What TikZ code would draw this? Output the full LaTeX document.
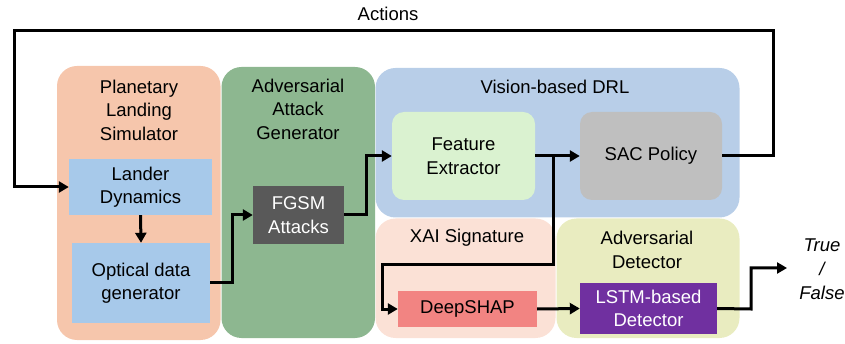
\documentclass[tikz,border=0pt]{standalone}
\usepackage{fontspec}
\setmainfont{Liberation Sans}
\usetikzlibrary{arrows.meta}
\definecolor{cPlan}{HTML}{F6C6AC}
\definecolor{cGen}{HTML}{8DB790}
\definecolor{cDRL}{HTML}{B8CEE8}
\definecolor{cXAI}{HTML}{FBE1D6}
\definecolor{cDet}{HTML}{E9ECC0}
\definecolor{cBlue}{HTML}{A7C9EA}
\definecolor{cFGSM}{HTML}{595959}
\definecolor{cFeat}{HTML}{DAF2D0}
\definecolor{cSAC}{HTML}{BFBFBF}
\definecolor{cShap}{HTML}{F28482}
\definecolor{cLSTM}{HTML}{7030A0}
\begin{document}
\begin{tikzpicture}[x=1pt,y=-1pt,
  every node/.style={font=\fontsize{18.5}{23.5}\selectfont, align=center, inner sep=0pt},
  region/.style={rounded corners=20pt},
  arr/.style={line width=3pt, -{Triangle[length=10pt,width=11pt]}}
]
\useasboundingbox (0,0) rectangle (845,344);
% regions
\fill[cPlan, region] (57,66) rectangle (220.5,340);
\fill[cGen, region] (221.5,67) rectangle (375,338);
\fill[cDRL, region] (375.5,68) rectangle (739.5,217.5);
\fill[cXAI, region] (375.5,218.5) rectangle (555.5,338);
\fill[cDet, region] (556.5,218.5) rectangle (739.5,338);
% region titles
\node (tPlan) at (139,110) {Planetary\\Landing\\Simulator};
\node (tGen) at (298,109) {Adversarial\\Attack\\Generator};
\node (tDRL) at (555,87) {Vision-based DRL};
\node (tXAI) at (467,238) {XAI Signature};
\node (tDet) at (647,250) {Adversarial\\Detector};
\node (tAct) at (388,14) {Actions};
% boxes
\node[fill=cBlue, minimum width=143pt, minimum height=56pt] (lander) at (140.5,187) {Lander\\Dynamics};
\node[fill=cBlue, minimum width=138pt, minimum height=80pt] (optical) at (141,283) {Optical data\\generator};
\node[fill=cFGSM, text=white, minimum width=91pt, minimum height=58pt] (fgsm) at (298.5,215) {FGSM\\Attacks};
\node[fill=cFeat, rounded corners=12pt, minimum width=143pt, minimum height=88pt] (feat) at (463.5,156) {Feature\\Extractor};
\node[fill=cSAC, rounded corners=12pt, minimum width=142pt, minimum height=88pt] (sac) at (651,156) {SAC Policy};
\node[fill=cShap, minimum width=139pt, minimum height=35pt] (shap) at (467.5,309) {DeepSHAP};
\node[fill=cLSTM, text=white, minimum width=137pt, minimum height=51pt] (lstm) at (648.5,308.5) {LSTM-based\\Detector};
\node[font=\fontsize{18.5}{24}\selectfont\itshape] (tf) at (822,269) {True\\/\\False};
% connectors
\coordinate (outEnd) at (787,268);
\coordinate (br) at (553,156);
\draw[arr] (lander.south) -- (optical.north);
\draw[arr] (optical.east |- 0,283) -- (232,283) |- (fgsm.west);
\draw[arr] (fgsm.east) -- (366,215) |- (feat.west);
\draw[arr] (feat.east) -- (sac.west);
\draw[arr] (br) -- (553,265) -- (382,265) |- (shap.west);
\draw[arr] (sac.east) -- (773,156) |- (14,31) |- (lander.west);
\draw[arr] (shap.east) -- (lstm.west);
\draw[arr] (lstm.east) -- (751,309) |- (outEnd);
\end{tikzpicture}
\end{document}
